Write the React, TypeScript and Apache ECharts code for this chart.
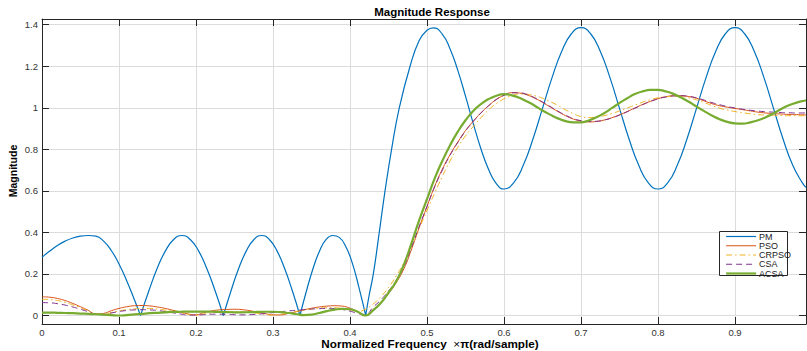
import React, { useEffect, useRef } from "react";
import * as echarts from "echarts";

// Normalized frequency grid (×π rad/sample) shared by the optimised designs
const freq = [
  0, 0.01, 0.02, 0.03, 0.04, 0.05, 0.06, 0.07, 0.08, 0.09,
  0.1, 0.11, 0.12, 0.13, 0.14, 0.15, 0.16, 0.17, 0.18, 0.19,
  0.2, 0.21, 0.22, 0.23, 0.24, 0.25, 0.26, 0.27, 0.28, 0.29,
  0.3, 0.31, 0.32, 0.33, 0.34, 0.35, 0.36, 0.37, 0.38, 0.39,
  0.4, 0.41, 0.42, 0.43, 0.44, 0.45, 0.46, 0.47, 0.48, 0.49,
  0.5, 0.51, 0.52, 0.53, 0.54, 0.55, 0.56, 0.57, 0.58, 0.59,
  0.6, 0.61, 0.62, 0.63, 0.64, 0.65, 0.66, 0.67, 0.68, 0.69,
  0.7, 0.71, 0.72, 0.73, 0.74, 0.75, 0.76, 0.77, 0.78, 0.79,
  0.8, 0.81, 0.82, 0.83, 0.84, 0.85, 0.86, 0.87, 0.88, 0.89,
  0.9, 0.91, 0.92, 0.93, 0.94, 0.95, 0.96, 0.97, 0.98, 0.99,
  0.9922,
];

const psoMag = [
  0.09, 0.088, 0.082, 0.072, 0.058, 0.042, 0.025, 0.007, 0.01, 0.023,
  0.034, 0.042, 0.047, 0.048, 0.046, 0.041, 0.034, 0.025, 0.016, 0.007,
  0.003, 0.014, 0.022, 0.027, 0.029, 0.03, 0.028, 0.023, 0.016, 0.009,
  0.003, 0.003, 0.01, 0.018, 0.027, 0.035, 0.041, 0.045, 0.047, 0.045,
  0.035, 0.018, 0.0, 0.028, 0.062, 0.105, 0.158, 0.225, 0.32, 0.425,
  0.525, 0.622, 0.705, 0.775, 0.835, 0.89, 0.935, 0.975, 1.01, 1.04,
  1.06, 1.073, 1.071, 1.062, 1.046, 1.026, 1.004, 0.982, 0.962, 0.946,
  0.936, 0.932, 0.934, 0.941, 0.952, 0.966, 0.982, 0.999, 1.016, 1.031,
  1.044, 1.053, 1.058, 1.058, 1.054, 1.046, 1.033, 1.02, 1.01, 1.003,
  0.997, 0.991, 0.985, 0.979, 0.975, 0.972, 0.97, 0.968, 0.967, 0.966,
  0.966,
];

const crpsoMag = [
  0.078, 0.077, 0.072, 0.063, 0.051, 0.037, 0.022, 0.008, 0.005, 0.014,
  0.022, 0.028, 0.032, 0.034, 0.034, 0.031, 0.026, 0.02, 0.013, 0.006,
  0.002, 0.007, 0.012, 0.016, 0.018, 0.019, 0.018, 0.015, 0.01, 0.005,
  0.002, 0.006, 0.012, 0.019, 0.026, 0.031, 0.035, 0.037, 0.037, 0.034,
  0.028, 0.02, 0.03, 0.055, 0.09, 0.135, 0.19, 0.255, 0.335, 0.42,
  0.505, 0.59, 0.67, 0.745, 0.81, 0.865, 0.91, 0.952, 0.99, 1.02,
  1.043, 1.058, 1.066, 1.065, 1.058, 1.046, 1.03, 1.011, 0.99, 0.972,
  0.958, 0.953, 0.955, 0.962, 0.972, 0.985, 0.999, 1.013, 1.027, 1.039,
  1.048, 1.053, 1.055, 1.054, 1.048, 1.038, 1.025, 1.011, 0.998, 0.989,
  0.982, 0.976, 0.971, 0.967, 0.965, 0.964, 0.963, 0.962, 0.962, 0.962,
  0.962,
];

const csaMag = [
  0.062, 0.061, 0.057, 0.05, 0.041, 0.03, 0.018, 0.006, 0.004, 0.012,
  0.019, 0.024, 0.027, 0.028, 0.027, 0.024, 0.019, 0.013, 0.007, 0.002,
  0.002, 0.004, 0.006, 0.006, 0.005, 0.004, 0.003, 0.004, 0.006, 0.01,
  0.014, 0.018, 0.022, 0.025, 0.028, 0.031, 0.033, 0.034, 0.033, 0.029,
  0.021, 0.01, 0.005, 0.04, 0.075, 0.118, 0.168, 0.235, 0.33, 0.43,
  0.525, 0.62, 0.7, 0.772, 0.833, 0.888, 0.934, 0.975, 1.01, 1.04,
  1.06, 1.072, 1.072, 1.064, 1.048, 1.028, 1.006, 0.984, 0.964, 0.948,
  0.938, 0.934, 0.935, 0.941, 0.951, 0.965, 0.981, 0.998, 1.015, 1.03,
  1.043, 1.052, 1.057, 1.058, 1.055, 1.048, 1.037, 1.025, 1.015, 1.006,
  0.999, 0.993, 0.988, 0.984, 0.981, 0.979, 0.977, 0.976, 0.975, 0.975,
  0.975,
];

const acsaMag = [
  0.014, 0.014, 0.013, 0.012, 0.011, 0.009, 0.008, 0.006, 0.004, 0.002,
  0.0, 0.002, 0.005, 0.008, 0.011, 0.013, 0.015, 0.017, 0.018, 0.019,
  0.019, 0.019, 0.018, 0.017, 0.016, 0.015, 0.015, 0.016, 0.017, 0.018,
  0.018, 0.016, 0.012, 0.007, 0.002, 0.004, 0.012, 0.021, 0.028, 0.032,
  0.03, 0.018, 0.0, 0.025, 0.06, 0.11, 0.165, 0.245, 0.35, 0.46,
  0.56, 0.66, 0.745, 0.82, 0.885, 0.94, 0.985, 1.018, 1.042, 1.058,
  1.066, 1.06, 1.048, 1.03, 1.01, 0.987, 0.967, 0.949, 0.936, 0.93,
  0.93, 0.939, 0.954, 0.974, 0.998, 1.023, 1.046, 1.066, 1.079, 1.086,
  1.086, 1.079, 1.067, 1.049, 1.029, 1.006, 0.984, 0.963, 0.945, 0.932,
  0.925, 0.924, 0.93, 0.94, 0.955, 0.973, 0.994, 1.012, 1.025, 1.034,
  1.036,
];

// Parks-McClellan design: a repeated frequency marks a zero of |H| (lobe boundary)
const pmFreq = [
  0, 0.01, 0.02, 0.03, 0.04, 0.05, 0.06, 0.07, 0.08, 0.09, 0.1, 0.11, 0.12, 0.128,
  0.128, 0.1388, 0.1495, 0.1603, 0.171, 0.1818, 0.1925, 0.2033, 0.214, 0.2248, 0.2355,
  0.2355, 0.2455, 0.2554, 0.2654, 0.2753, 0.2853, 0.2952, 0.3052, 0.3151, 0.3251, 0.335,
  0.335, 0.3435, 0.352, 0.3605, 0.369, 0.3775, 0.386, 0.3945, 0.403, 0.4115, 0.4204,
  0.4204, 0.425, 0.4303, 0.438, 0.4455, 0.454, 0.464, 0.478, 0.49, 0.5, 0.508,
  0.52, 0.53, 0.54, 0.55, 0.56, 0.57, 0.58, 0.59, 0.6,
  0.6125, 0.625, 0.6375, 0.65, 0.6625, 0.675, 0.6875, 0.7,
  0.7125, 0.725, 0.7375, 0.75, 0.7625, 0.775, 0.7875, 0.8,
  0.8125, 0.825, 0.8375, 0.85, 0.8625, 0.875, 0.8875, 0.9,
  0.9125, 0.925, 0.9375, 0.95, 0.9625, 0.975, 0.9875, 0.9922,
];
const pmMag = [
  0.28, 0.31, 0.337, 0.358, 0.373, 0.382, 0.385, 0.382, 0.358, 0.313, 0.248, 0.167, 0.076, 0,
  0, 0.119, 0.226, 0.311, 0.366, 0.385, 0.366, 0.311, 0.226, 0.119, 0,
  0, 0.119, 0.226, 0.311, 0.366, 0.385, 0.366, 0.311, 0.226, 0.119, 0,
  0, 0.119, 0.226, 0.311, 0.366, 0.385, 0.376, 0.332, 0.252, 0.137, 0,
  0, 0.1, 0.2, 0.4, 0.6, 0.8, 1.0, 1.2, 1.325, 1.373, 1.385,
  1.354, 1.283, 1.18, 1.056, 0.925, 0.803, 0.703, 0.635, 0.609,
  0.6385, 0.7228, 0.8487, 0.9975, 1.1463, 1.2722, 1.3565, 1.386,
  1.3565, 1.2722, 1.1463, 0.9975, 0.8487, 0.7228, 0.6385, 0.609,
  0.6385, 0.7228, 0.8487, 0.9975, 1.1463, 1.2722, 1.3565, 1.386,
  1.3565, 1.2722, 1.1463, 0.9975, 0.8487, 0.7228, 0.6385, 0.6165,
];

const xTicks = [0, 0.1, 0.2, 0.3, 0.4, 0.5, 0.6, 0.7, 0.8, 0.9];
const yTicks = [0, 0.2, 0.4, 0.6, 0.8, 1, 1.2, 1.4];
const seriesNames = ["PM", "PSO", "CRPSO", "CSA", "ACSA"];

const X_MIN = 0;
const X_MAX = 0.9922;
const Y_MIN = -0.041;
const Y_MAX = 1.4275;

const FONT = '"Liberation Sans", Arial, Helvetica, sans-serif';
const AXIS = "#262626";
const GRID = "#dcdcdc";

export default function App() {
  const ref = useRef<HTMLDivElement>(null);

  useEffect(() => {
    if (!ref.current) return;
    const chart = echarts.init(ref.current, null, { renderer: "svg" });

    const pair = (ys: number[]) => freq.map((f, i) => [f, ys[i]]);
    const pmData: (number | string)[][] = [];
    pmFreq.forEach((f, i) => {
      if (i > 0 && f === pmFreq[i - 1]) pmData.push([f, "-"]);
      pmData.push([f, pmMag[i]]);
    });

    const tickStyle = { show: true, inside: true, length: 7, lineStyle: { color: AXIS, width: 1 } };
    const lineAxis = { show: true, onZero: false, lineStyle: { color: AXIS, width: 1 } };
    const tickLabel = {
      color: "#333333",
      fontSize: 9.5,
      lineHeight: 10,
      fontFamily: FONT,
    };

    const line = (name: string, data: any[], color: string, width: number, type: any) => ({
      name,
      type: "line",
      data,
      smooth: true,
      symbol: "none",
      showSymbol: false,
      clip: true,
      silent: true,
      lineStyle: { color, width, type },
      itemStyle: { color },
      emphasis: { disabled: true },
    });

    chart.setOption({
      animation: false,
      backgroundColor: "#ffffff",
      grid: { left: 42, right: 1, top: 19, bottom: 27, containLabel: false },
      xAxis: [
        {
          type: "value",
          min: X_MIN,
          max: X_MAX,
          position: "bottom",
          axisLine: lineAxis,
          axisTick: { ...tickStyle, customValues: xTicks },
          axisLabel: {
            ...tickLabel,
            customValues: xTicks,
            formatter: (v: number) => String(v),
            margin: 3,
          },
          splitLine: { show: true, lineStyle: { color: GRID, width: 1 } },
        },
        {
          type: "value",
          min: X_MIN,
          max: X_MAX,
          position: "top",
          axisLine: lineAxis,
          axisTick: { ...tickStyle, customValues: xTicks },
          axisLabel: { show: false },
          splitLine: { show: false },
        },
      ],
      yAxis: [
        {
          type: "value",
          min: Y_MIN,
          max: Y_MAX,
          position: "left",
          axisLine: lineAxis,
          axisTick: { ...tickStyle, customValues: yTicks },
          axisLabel: {
            ...tickLabel,
            customValues: yTicks,
            formatter: (v: number) => String(v),
            margin: 4,
          },
          splitLine: { show: true, lineStyle: { color: GRID, width: 1 } },
        },
        {
          type: "value",
          min: Y_MIN,
          max: Y_MAX,
          position: "right",
          axisLine: lineAxis,
          axisTick: { ...tickStyle, customValues: yTicks },
          axisLabel: { show: false },
          splitLine: { show: false },
        },
      ],
      legend: {
        data: seriesNames,
        orient: "vertical",
        left: 725,
        top: 232,
        padding: 0,
        itemWidth: 30,
        itemHeight: 8,
        itemGap: 0.25,
        z: 20,
        selectedMode: false,
        itemStyle: { opacity: 0 },
        lineStyle: { width: "inherit" },
        textStyle: { fontSize: 9, fontFamily: FONT, color: "#1a1a1a", lineHeight: 8, padding: [0, 0, 0, -2] },
      },
      graphic: [
        {
          type: "rect",
          z: 15,
          shape: { x: 719.5, y: 231.5, width: 68, height: 44 },
          style: { fill: "#ffffff", stroke: AXIS, lineWidth: 1 },
        },
        {
          type: "text",
          x: 432,
          y: 12,
          style: {
            text: "Magnitude Response",
            fontSize: 11.5,
            fontWeight: "bold",
            fontFamily: FONT,
            fill: "#000000",
            align: "center",
            verticalAlign: "middle",
          },
        },
        {
          type: "text",
          x: 430,
          y: 343.5,
          style: {
            text: "{b|Normalized Frequency}  {n|×}{b|π(rad/sample)}",
            rich: {
              b: { fontSize: 11.7, lineHeight: 12, fontWeight: "bold", fontFamily: FONT, fill: "#000000" },
              n: { fontSize: 11.7, lineHeight: 12, fontFamily: FONT, fill: "#000000" },
            },
            align: "center",
            verticalAlign: "middle",
          },
        },
        {
          type: "text",
          x: 13,
          y: 171,
          rotation: Math.PI / 2,
          style: {
            text: "Magnitude",
            fontSize: 10.5,
            fontWeight: "bold",
            fontFamily: FONT,
            fill: "#000000",
            align: "center",
            verticalAlign: "middle",
          },
        },
      ],
      series: [
        line("PM", pmData, "#0072BD", 1.2, "solid"),
        line("PSO", pair(psoMag), "#D95319", 1, "solid"),
        line("CRPSO", pair(crpsoMag), "#EDB120", 1, [6, 3, 1.5, 3]),
        line("CSA", pair(csaMag), "#7E2F8E", 1, [6, 4]),
        line("ACSA", pair(acsaMag), "#77AC30", 2.2, "solid"),
      ],
    });

    return () => chart.dispose();
  }, []);

  return (
    <div
      ref={ref}
      style={{ position: "fixed", left: 0, top: 0, width: 807, height: 351, background: "#fff" }}
    />
  );
}
